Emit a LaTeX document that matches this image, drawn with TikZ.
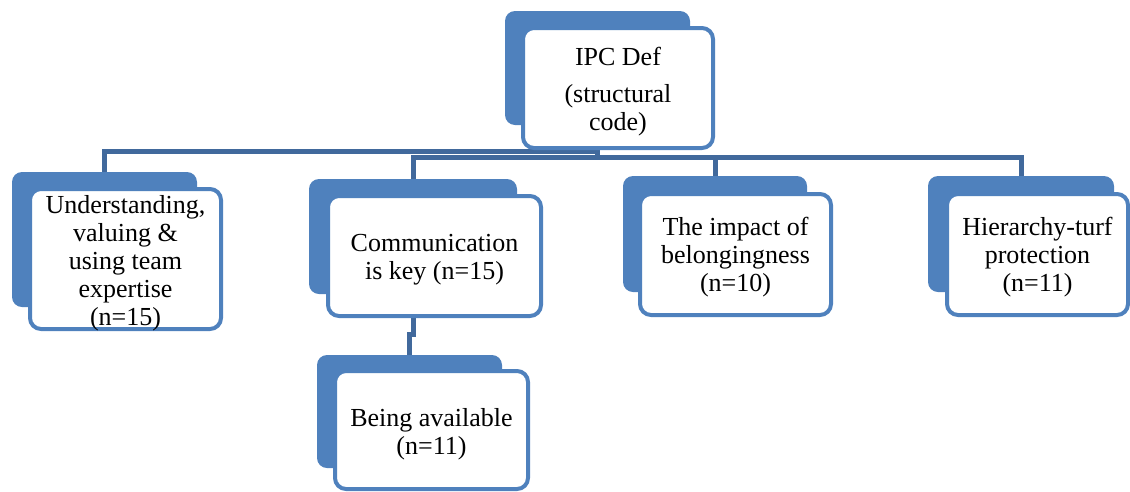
\documentclass[tikz,border=0pt]{standalone}
\usepackage{fontspec}
\setmainfont{Liberation Serif}
\usetikzlibrary{backgrounds}
\definecolor{accent}{HTML}{4F81BD}
\definecolor{connc}{HTML}{41699C}
\begin{document}
\begin{tikzpicture}[x=1pt,y=-1pt,
  backbox/.style={fill=accent,draw=none,rounded corners=10pt,inner sep=0pt},
  frontbox/.style={fill=white,draw=accent,line width=4pt,rounded corners=11pt,inner sep=0pt},
  txt/.style={inner sep=0pt,align=center,font=\fontsize{26}{28}\selectfont},
  conn/.style={draw=connc,line width=5pt}]
\useasboundingbox (0,0) rectangle (1130,491);
% root
\node[backbox,minimum width=185pt,minimum height=114pt] (rootb) at (597.5,68) {};
\node[frontbox,minimum width=190pt,minimum height=120pt] (root) at (618,88) {};
\node[txt] (roott) at ([yshift=-4pt]root.center) {IPC Def\\[9pt](structural\\code)};
% level 1
\node[backbox,minimum width=185pt,minimum height=135pt] (n1b) at (104.5,239.5) {};
\node[frontbox,minimum width=191pt,minimum height=140pt] (n1) at (125.5,259) {};
\node[txt] (n1t) at ([yshift=-4pt]n1.center) {Understanding,\\valuing \&\\using team\\expertise\\(n=15)};
\node[backbox,minimum width=208pt,minimum height=115pt] (n2b) at (413,236.5) {};
\node[frontbox,minimum width=213pt,minimum height=120pt] (n2) at (434.5,256) {};
\node[txt] (n2t) at ([yshift=-4pt]n2.center) {Communication\\is key (n=15)};
\node[backbox,minimum width=184pt,minimum height=116pt] (n3b) at (715,234) {};
\node[frontbox,minimum width=191pt,minimum height=121pt] (n3) at (735.5,254.5) {};
\node[txt] (n3t) at ([yshift=-3pt]n3.center) {The impact of\\belongingness\\(n=10)};
\node[backbox,minimum width=186pt,minimum height=116pt] (n4b) at (1021,234) {};
\node[frontbox,minimum width=181pt,minimum height=121pt] (n4) at (1037.5,254.5) {};
\node[txt] (n4t) at ([yshift=-3pt]n4.center) {Hierarchy-turf\\protection\\(n=11)};
% level 2
\node[backbox,minimum width=185pt,minimum height=113pt] (n5b) at (409.5,411.5) {};
\node[frontbox,minimum width=193pt,minimum height=118pt] (n5) at (431.5,430) {};
\node[txt] (n5t) at ([yshift=-4pt]n5.center) {Being available\\(n=11)};
% connectors
\begin{pgfonlayer}{background}
\draw[conn] (rootb.south) -- ++(0,26) -| (n1b.north);
\draw[conn] (rootb.south) -- ++(0,32) -| (n2b.north);
\draw[conn] (rootb.south) -- ++(0,32) -| (n3b.north);
\draw[conn] (rootb.south) -- ++(0,32) -| (n4b.north);
\draw[conn] (n2b.south) -- ++(0,40) -| (n5b.north);
\end{pgfonlayer}
\end{tikzpicture}
\end{document}
